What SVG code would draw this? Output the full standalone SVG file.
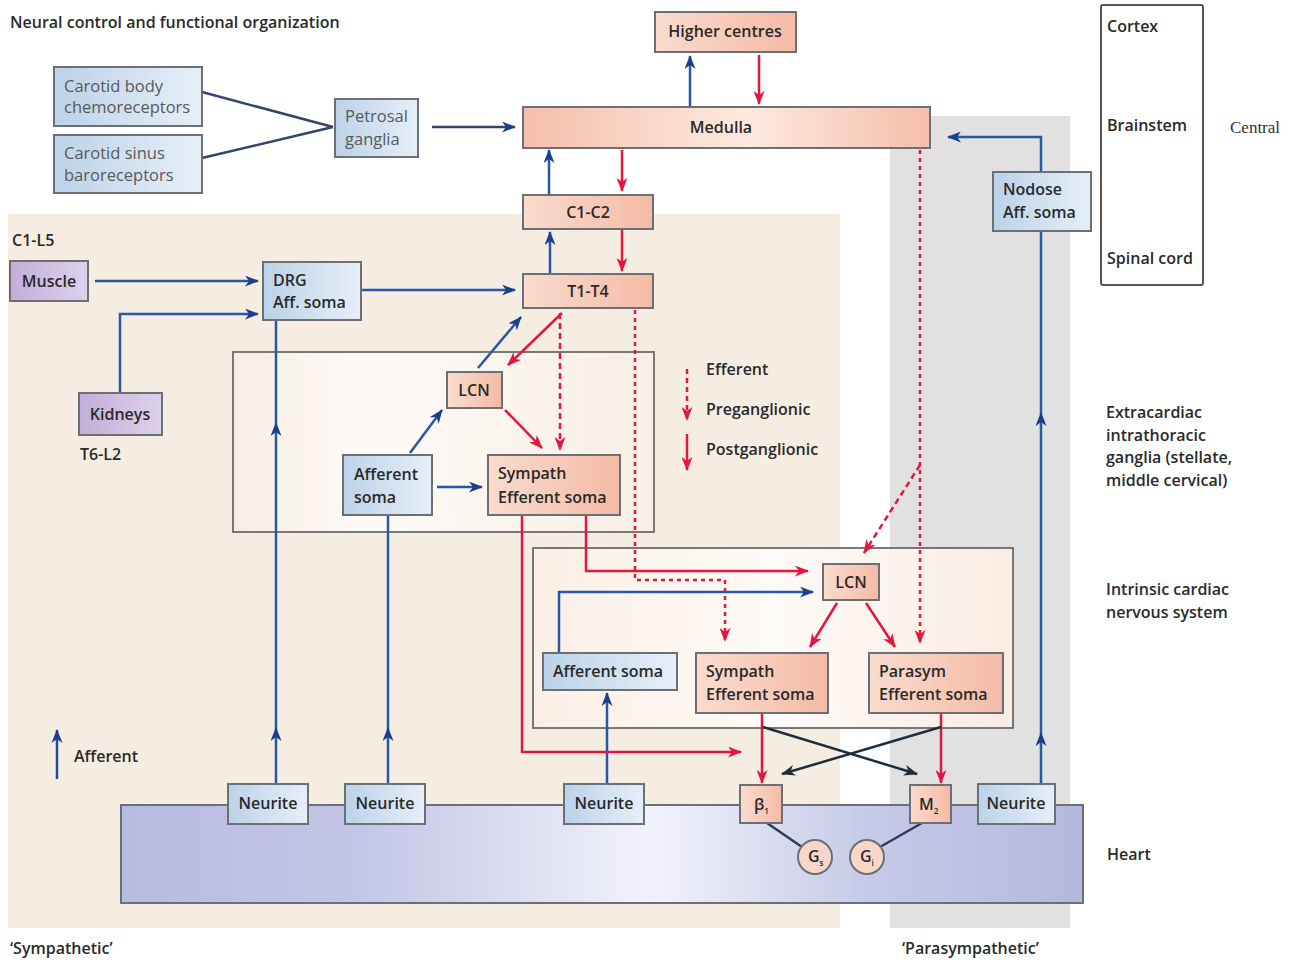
<svg xmlns="http://www.w3.org/2000/svg" width="1310" height="968" viewBox="0 0 1310 968">
<style>
.t{font-family:"Open Sans","Liberation Sans",sans-serif;font-size:16px;font-weight:600;fill:#2a2a2a}
.tl{font-family:"Open Sans","Liberation Sans",sans-serif;font-size:16.5px;font-weight:400;fill:#5a5a5a}
.bx{stroke:#6b7076;stroke-width:2}
.b{fill:url(#gB)}
.s{fill:url(#gS)}
.p{fill:url(#gP)}
.lb{fill:none;stroke:#2758a6;stroke-width:2.5}
.lr{fill:none;stroke:#e3173e;stroke-width:2.5}
.ld{fill:none;stroke:#e3173e;stroke-width:2.5;stroke-dasharray:6 4}
.lo{fill:none;stroke:#e3173e;stroke-width:2.5;stroke-dasharray:4 4}
.lk{fill:none;stroke:#1f2e3d;stroke-width:2.5}
.lg{fill:none;stroke:#34446a;stroke-width:2.5}
</style>
<defs>
<linearGradient id="gB" x1="0" y1="0" x2="1" y2="0"><stop offset="0" stop-color="#bcd2e8"/><stop offset="1" stop-color="#e6eff8"/></linearGradient>
<linearGradient id="gS" x1="0" y1="0" x2="1" y2="0"><stop offset="0" stop-color="#fadbcd"/><stop offset="1" stop-color="#f4bba6"/></linearGradient>
<linearGradient id="gM" x1="0" y1="0" x2="1" y2="0"><stop offset="0" stop-color="#f5bfaa"/><stop offset="0.55" stop-color="#fde9df"/><stop offset="1" stop-color="#f5bfaa"/></linearGradient>
<linearGradient id="gP" x1="0" y1="0" x2="1" y2="0"><stop offset="0" stop-color="#c2aed8"/><stop offset="1" stop-color="#ddd1eb"/></linearGradient>
<linearGradient id="gH" x1="0" y1="0" x2="1" y2="0"><stop offset="0" stop-color="#b7bbe0"/><stop offset="0.25" stop-color="#c3c6e6"/><stop offset="0.55" stop-color="#f1f2fa"/><stop offset="0.78" stop-color="#c6c9e8"/><stop offset="1" stop-color="#b4b8de"/></linearGradient>
<linearGradient id="gE" x1="0" y1="0" x2="1" y2="0"><stop offset="0" stop-color="#f7ede3"/><stop offset="0.3" stop-color="#fdfaf6"/><stop offset="1" stop-color="#f8efe6"/></linearGradient>
<linearGradient id="gI" x1="0" y1="0" x2="1" y2="0"><stop offset="0" stop-color="#fbefe5"/><stop offset="0.5" stop-color="#fefaf7"/><stop offset="1" stop-color="#f9ece2"/></linearGradient>
<marker id="mb" viewBox="0 0 14 11" refX="13" refY="5.5" markerWidth="14" markerHeight="11" markerUnits="userSpaceOnUse" orient="auto"><path d="M0,0 L14,5.5 L0,11 L4,5.5 z" fill="#1b3f8a"/></marker>
<marker id="mr" viewBox="0 0 14 11" refX="13" refY="5.5" markerWidth="14" markerHeight="11" markerUnits="userSpaceOnUse" orient="auto"><path d="M0,0 L14,5.5 L0,11 L4,5.5 z" fill="#e3173e"/></marker>
<marker id="mk" viewBox="0 0 14 11" refX="13" refY="5.5" markerWidth="14" markerHeight="11" markerUnits="userSpaceOnUse" orient="auto"><path d="M0,0 L14,5.5 L0,11 L4,5.5 z" fill="#1f2e3d"/></marker>
</defs>
<rect width="1310" height="968" fill="#ffffff"/>
<g id="regions">
<rect x="8" y="214" width="832" height="714" fill="#f6ede2"/>
<rect x="890" y="116" width="180" height="812" fill="#e1e1e1"/>
</g>
<g id="containers">
<rect id="extracardiac" x="233" y="352" width="421" height="180" fill="url(#gE)" stroke="#6b6b6b" stroke-width="1.8"/>
<rect id="intrinsic" x="533" y="548" width="480" height="180" fill="url(#gI)" stroke="#6b6b6b" stroke-width="1.8"/>
<rect id="heart" x="121" y="805" width="962" height="98" fill="url(#gH)" stroke="#6b7076" stroke-width="2"/>
<rect id="levels" x="1101" y="5" width="102" height="280" fill="none" stroke="#555" stroke-width="2" rx="2"/>
</g>
<g id="connectors">
<path class="lg" d="M202,92 L333,127 M202,158 L333,127"/>
<path class="lg" d="M432,127 L515,127" marker-end="url(#mb)"/>
<path class="lb" d="M690,107 L690,56" marker-end="url(#mb)"/>
<path class="lr" d="M759,55 L759,104" marker-end="url(#mr)"/>
<path class="lb" d="M549,195 L549,150" marker-end="url(#mb)"/>
<path class="lr" d="M622,150 L622,191" marker-end="url(#mr)"/>
<path class="lb" d="M550,274 L550,232" marker-end="url(#mb)"/>
<path class="lr" d="M622,230 L622,271" marker-end="url(#mr)"/>
<path class="lb" d="M95,281 L258,281" marker-end="url(#mb)"/>
<path class="lb" d="M120,393 L120,314 L258,314" marker-end="url(#mb)"/>
<path class="lb" d="M361,290 L515,290" marker-end="url(#mb)"/>
<path class="lb" d="M276,784 L276,728 L276,423 L276,320" marker-mid="url(#mb)"/>
<path class="lb" d="M388,784 L388,728 L388,515" marker-mid="url(#mb)"/>
<path class="lb" d="M607,784 L607,693" marker-end="url(#mb)"/>
<path class="lb" d="M1041,784 L1041,733 L1041,413 L1041,231" marker-mid="url(#mb)"/>
<path class="lb" d="M1041,172 L1041,137 L948,137" marker-end="url(#mb)"/>
<path class="lb" d="M410,453 L442,410" marker-end="url(#mb)"/>
<path class="lb" d="M437,487 L482,487" marker-end="url(#mb)"/>
<path class="lb" d="M478,368 L521,317" marker-end="url(#mb)"/>
<path class="lr" d="M562,313 L508,365" marker-end="url(#mr)"/>
<path class="lr" d="M505,410 L542,448" marker-end="url(#mr)"/>
<path class="ld" d="M560,313 L560,450" marker-end="url(#mr)"/>
<path class="lo" d="M635,310 L635,580 L725,580 L725,641" marker-end="url(#mr)"/>
<path class="lo" d="M920,150 L920,643" marker-end="url(#mr)"/>
<path class="ld" d="M920,465 L864,553" marker-end="url(#mr)"/>
<path class="lr" d="M522,515 L522,752 L741,752" marker-end="url(#mr)"/>
<path class="lr" d="M586,515 L586,571 L808,571" marker-end="url(#mr)"/>
<path class="lb" d="M559,653 L559,592 L813,592" marker-end="url(#mb)"/>
<path class="lr" d="M837,603 L810,647" marker-end="url(#mr)"/>
<path class="lr" d="M866,603 L895,647" marker-end="url(#mr)"/>
<path class="lr" d="M762,713 L762,783" marker-end="url(#mr)"/>
<path class="lr" d="M941,713 L941,783" marker-end="url(#mr)"/>
<path class="lk" d="M763,727 L917,774" marker-end="url(#mk)"/>
<path class="lk" d="M941,727 L782,774" marker-end="url(#mk)"/>
<path class="lg" d="M767,823 L802,847 M922,823 L880,847" style="stroke:#2d3b5e"/>
</g>
<g id="legend">
<path class="lb" d="M57,779 L57,730" marker-end="url(#mb)" style="stroke:#244c98"/>
<text class="t" x="74" y="762">Afferent</text>
<path class="ld" d="M687,369 L687,420" marker-end="url(#mr)" style="stroke-dasharray:5 4"/>
<path class="lr" d="M687,434 L687,470" marker-end="url(#mr)"/>
<text class="t" x="706" y="375">Efferent</text>
<text class="t" x="706" y="415">Preganglionic</text>
<text class="t" x="706" y="455">Postganglionic</text>
</g>
<g id="carotid_body"><rect class="bx b" x="54" y="67" width="148" height="59"/><text class="tl" x="64" y="92">Carotid body</text><text class="tl" x="64" y="113">chemoreceptors</text></g>
<g id="carotid_sinus"><rect class="bx b" x="54" y="135" width="148" height="58"/><text class="tl" x="64" y="159">Carotid sinus</text><text class="tl" x="64" y="181">baroreceptors</text></g>
<g id="petrosal"><rect class="bx b" x="335" y="99" width="83" height="58"/><text class="tl" x="345" y="122">Petrosal</text><text class="tl" x="345" y="145">ganglia</text></g>
<g id="higher_centres"><rect class="bx s" x="655" y="12" width="141" height="40"/><text class="t" x="725" y="37" text-anchor="middle">Higher centres</text></g>
<g id="medulla"><rect class="bx" fill="url(#gM)" x="523" y="107" width="407" height="41"/><text class="t" x="721" y="133" text-anchor="middle">Medulla</text></g>
<g id="c1c2"><rect class="bx s" x="523" y="195" width="130" height="34"/><text class="t" x="588" y="218" text-anchor="middle">C1-C2</text></g>
<g id="t1t4"><rect class="bx s" x="523" y="274" width="130" height="34"/><text class="t" x="588" y="297" text-anchor="middle">T1-T4</text></g>
<g id="nodose"><rect class="bx b" x="993" y="172" width="98" height="59"/><text class="t" x="1003" y="195">Nodose</text><text class="t" x="1003" y="218">Aff. soma</text></g>
<g id="muscle"><rect class="bx p" x="10" y="261" width="78" height="40"/><text class="t" x="49" y="287" text-anchor="middle">Muscle</text></g>
<g id="kidneys"><rect class="bx p" x="79" y="393" width="83" height="42"/><text class="t" x="120" y="420" text-anchor="middle">Kidneys</text></g>
<g id="drg"><rect class="bx b" x="263" y="262" width="98" height="58"/><text class="t" x="273" y="286">DRG</text><text class="t" x="273" y="308">Aff. soma</text></g>
<g id="lcn_extra"><rect class="bx s" x="447" y="372" width="55" height="36"/><text class="t" x="474" y="396" text-anchor="middle">LCN</text></g>
<g id="afferent_extra"><rect class="bx b" x="343" y="455" width="89" height="60"/><text class="t" x="354" y="480">Afferent</text><text class="t" x="354" y="503">soma</text></g>
<g id="sympath_extra"><rect class="bx s" x="488" y="455" width="132" height="60"/><text class="t" x="498" y="479">Sympath</text><text class="t" x="498" y="503">Efferent soma</text></g>
<g id="lcn_intr"><rect class="bx s" x="823" y="564" width="56" height="36"/><text class="t" x="851" y="588" text-anchor="middle">LCN</text></g>
<g id="afferent_intr"><rect class="bx b" x="543" y="653" width="134" height="37"/><text class="t" x="608" y="677" text-anchor="middle">Afferent soma</text></g>
<g id="sympath_intr"><rect class="bx s" x="696" y="653" width="132" height="60"/><text class="t" x="706" y="677">Sympath</text><text class="t" x="706" y="700">Efferent soma</text></g>
<g id="parasym_intr"><rect class="bx s" x="869" y="653" width="134" height="60"/><text class="t" x="879" y="677">Parasym</text><text class="t" x="879" y="700">Efferent soma</text></g>
<g id="neurite1"><rect class="bx b" x="228" y="784" width="80" height="40"/><text class="t" x="268" y="809" text-anchor="middle">Neurite</text></g>
<g id="neurite2"><rect class="bx b" x="345" y="784" width="80" height="40"/><text class="t" x="385" y="809" text-anchor="middle">Neurite</text></g>
<g id="neurite3"><rect class="bx b" x="564" y="784" width="80" height="40"/><text class="t" x="604" y="809" text-anchor="middle">Neurite</text></g>
<g id="neurite4"><rect class="bx b" x="978" y="784" width="77" height="40"/><text class="t" x="1016" y="809" text-anchor="middle">Neurite</text></g>
<g id="beta1"><rect class="bx s" x="740" y="785" width="42" height="38"/><text class="t" x="754" y="810">β<tspan font-size="8" dy="4">1</tspan></text></g>
<g id="m2"><rect class="bx s" x="910" y="785" width="41" height="38"/><text class="t" x="919" y="810">M<tspan font-size="8" dy="4">2</tspan></text></g>
<g id="gs"><circle cx="815" cy="857" r="17" fill="#f9d7c8" stroke="#6b7076" stroke-width="2"/><text class="t" x="808" y="862">G<tspan font-size="8" dy="4">s</tspan></text></g>
<g id="gi"><circle cx="867" cy="857" r="17" fill="#f9d7c8" stroke="#6b7076" stroke-width="2"/><text class="t" x="860" y="862">G<tspan font-size="8" dy="4">i</tspan></text></g>
<g id="labels">
<text class="t" x="10" y="28">Neural control and functional organization</text>
<text class="t" x="12" y="246">C1-L5</text>
<text class="t" x="80" y="460">T6-L2</text>
<text class="t" x="1107" y="32">Cortex</text>
<text class="t" x="1107" y="131">Brainstem</text>
<text class="t" x="1107" y="264">Spinal cord</text>
<text x="1230" y="133" font-family="Liberation Serif,serif" font-size="17" fill="#333">Central</text>
<text class="t" x="1106" y="418">Extracardiac</text>
<text class="t" x="1106" y="441">intrathoracic</text>
<text class="t" x="1106" y="463">ganglia (stellate,</text>
<text class="t" x="1106" y="486">middle cervical)</text>
<text class="t" x="1106" y="595">Intrinsic cardiac</text>
<text class="t" x="1106" y="618">nervous system</text>
<text class="t" x="1107" y="860">Heart</text>
<text class="t" x="10" y="954">‘Sympathetic’</text>
<text class="t" x="902" y="954">‘Parasympathetic’</text>
</g>
</svg>
